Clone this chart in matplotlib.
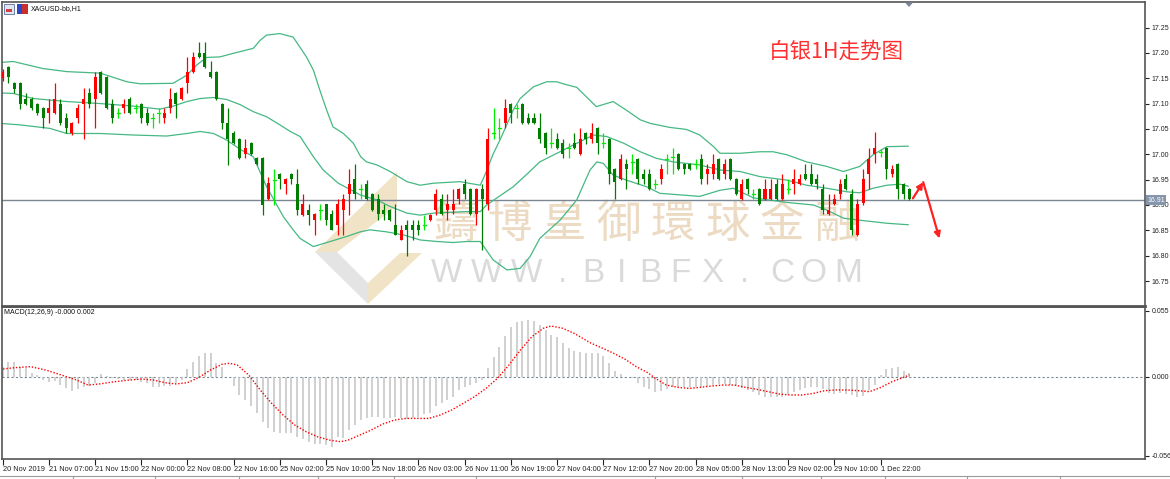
import matplotlib
matplotlib.use('Agg')
import matplotlib.pyplot as plt
from matplotlib.patches import Rectangle, Polygon
import numpy as np

W, H, DPI = 1170, 479, 100

# ---------------- data ----------------
opens = [17.150, 17.173, 17.141, 17.140, 17.110, 17.110, 17.100, 17.091, 17.081, 17.081,
         17.100, 17.071, 17.041, 17.071, 17.100, 17.120, 17.110, 17.163, 17.152, 17.100,
         17.081, 17.091, 17.110, 17.091, 17.100, 17.081, 17.071, 17.081, 17.071, 17.091,
         17.120, 17.110, 17.140, 17.163, 17.200, 17.200, 17.163, 17.163, 17.100, 17.061,
         17.041, 17.031, 17.000, 17.022, 16.992, 16.992, 16.911, 16.950, 16.961, 16.941,
         16.961, 16.941, 16.880, 16.891, 16.870, 16.891, 16.901, 16.882, 16.860, 16.891,
         16.921, 16.951, 16.931, 16.941, 16.921, 16.911, 16.891, 16.891, 16.860, 16.831,
         16.860, 16.860, 16.860, 16.860, 16.870, 16.891, 16.911, 16.891, 16.891, 16.911,
         16.941, 16.931, 16.882, 16.931, 16.901, 17.041, 17.051, 17.061, 17.100, 17.091,
         17.100, 17.071, 17.071, 17.051, 17.041, 17.022, 17.031, 17.022, 17.012, 17.022,
         17.000, 17.041, 17.031, 17.051, 17.022, 17.031, 16.971, 16.951, 16.980, 16.985,
         16.991, 16.961, 16.961, 16.941, 16.951, 16.991, 16.995, 17.000, 16.980, 16.980,
         16.980, 16.991, 16.961, 16.961, 16.991, 16.961, 16.991, 16.951, 16.911, 16.951,
         16.921, 16.931, 16.911, 16.911, 16.941, 16.911, 16.931, 16.941, 16.941, 16.961,
         16.961, 16.951, 16.931, 16.882, 16.901, 16.921, 16.951, 16.921, 16.841, 16.903,
         16.961, 17.000, 17.005, 17.012, 16.961, 16.980, 16.941, 16.931]
highs = [17.168, 17.175, 17.143, 17.142, 17.120, 17.112, 17.102, 17.093, 17.110, 17.141,
         17.110, 17.081, 17.063, 17.100, 17.130, 17.130, 17.163, 17.165, 17.155, 17.110,
         17.091, 17.110, 17.112, 17.100, 17.102, 17.091, 17.081, 17.091, 17.091, 17.130,
         17.122, 17.132, 17.192, 17.202, 17.222, 17.222, 17.183, 17.165, 17.102, 17.091,
         17.045, 17.033, 17.031, 17.024, 16.995, 16.995, 16.955, 16.971, 16.963, 16.953,
         16.963, 16.971, 16.921, 16.901, 16.884, 16.901, 16.902, 16.891, 16.911, 16.921,
         16.971, 16.980, 16.941, 16.950, 16.923, 16.921, 16.901, 16.893, 16.901, 16.860,
         16.870, 16.870, 16.870, 16.880, 16.882, 16.931, 16.921, 16.921, 16.931, 16.933,
         16.951, 16.933, 16.933, 16.941, 17.051, 17.091, 17.071, 17.110, 17.102, 17.100,
         17.102, 17.081, 17.081, 17.081, 17.043, 17.051, 17.041, 17.031, 17.022, 17.041,
         17.051, 17.043, 17.061, 17.053, 17.041, 17.033, 16.973, 17.001, 16.991, 17.000,
         16.993, 16.971, 16.971, 16.951, 16.980, 17.001, 17.012, 17.002, 16.982, 16.982,
         16.991, 17.001, 16.980, 17.000, 16.993, 16.991, 16.993, 16.953, 16.951, 16.953,
         16.931, 16.933, 16.951, 16.951, 16.951, 16.961, 16.951, 16.971, 16.961, 16.980,
         16.980, 16.961, 16.941, 16.921, 16.921, 16.951, 16.961, 16.931, 16.911, 16.971,
         17.012, 17.043, 17.010, 17.014, 16.978, 16.982, 16.943, 16.933]
lows = [17.145, 17.140, 17.120, 17.090, 17.098, 17.088, 17.078, 17.051, 17.061, 17.080,
        17.058, 17.041, 17.039, 17.061, 17.031, 17.091, 17.051, 17.118, 17.089, 17.061,
        17.071, 17.081, 17.079, 17.081, 17.061, 17.058, 17.051, 17.061, 17.061, 17.081,
        17.071, 17.108, 17.120, 17.160, 17.190, 17.170, 17.150, 17.108, 17.050, 16.979,
        17.020, 16.990, 16.992, 16.998, 16.978, 16.880, 16.910, 16.900, 16.931, 16.921,
        16.941, 16.880, 16.879, 16.860, 16.841, 16.870, 16.860, 16.850, 16.841, 16.841,
        16.880, 16.911, 16.911, 16.909, 16.889, 16.870, 16.870, 16.868, 16.840, 16.830,
        16.800, 16.831, 16.840, 16.851, 16.868, 16.880, 16.880, 16.870, 16.882, 16.901,
        16.911, 16.880, 16.860, 16.811, 16.891, 17.031, 17.031, 17.051, 17.061, 17.071,
        17.059, 17.059, 17.059, 17.022, 17.000, 17.012, 17.010, 16.992, 16.992, 17.010,
        16.998, 17.020, 17.022, 17.000, 17.012, 16.941, 16.911, 16.949, 16.931, 16.961,
        16.941, 16.941, 16.929, 16.931, 16.941, 16.961, 16.961, 16.969, 16.961, 16.969,
        16.971, 16.941, 16.941, 16.951, 16.949, 16.951, 16.949, 16.919, 16.909, 16.921,
        16.911, 16.899, 16.909, 16.909, 16.909, 16.909, 16.921, 16.921, 16.939, 16.949,
        16.939, 16.931, 16.882, 16.880, 16.899, 16.911, 16.929, 16.840, 16.839, 16.900,
        16.931, 16.982, 16.995, 16.951, 16.955, 16.911, 16.911, 16.909]
closes = [17.163, 17.152, 17.128, 17.100, 17.100, 17.091, 17.081, 17.071, 17.091, 17.110,
          17.061, 17.051, 17.061, 17.091, 17.110, 17.100, 17.152, 17.120, 17.091, 17.071,
          17.081, 17.100, 17.081, 17.091, 17.071, 17.061, 17.071, 17.081, 17.081, 17.110,
          17.100, 17.130, 17.163, 17.192, 17.192, 17.173, 17.152, 17.110, 17.061, 17.031,
          17.022, 16.992, 17.012, 17.000, 16.980, 16.900, 16.943, 16.950, 16.951, 16.951,
          16.951, 16.891, 16.901, 16.880, 16.882, 16.891, 16.870, 16.851, 16.901, 16.911,
          16.941, 16.921, 16.931, 16.911, 16.891, 16.882, 16.882, 16.870, 16.841, 16.851,
          16.851, 16.851, 16.851, 16.860, 16.880, 16.921, 16.882, 16.901, 16.901, 16.931,
          16.921, 16.882, 16.931, 16.911, 17.031, 17.041, 17.051, 17.091, 17.081, 17.091,
          17.061, 17.061, 17.061, 17.031, 17.012, 17.022, 17.012, 17.000, 17.012, 17.012,
          17.031, 17.031, 17.041, 17.022, 17.022, 16.961, 16.945, 16.991, 16.971, 16.985,
          16.951, 16.951, 16.931, 16.941, 16.971, 16.991, 16.995, 16.971, 16.971, 16.971,
          16.980, 16.951, 16.971, 16.980, 16.951, 16.980, 16.951, 16.921, 16.941, 16.931,
          16.921, 16.901, 16.931, 16.931, 16.911, 16.941, 16.931, 16.951, 16.951, 16.951,
          16.941, 16.941, 16.891, 16.891, 16.911, 16.941, 16.931, 16.851, 16.901, 16.951,
          16.991, 17.012, 17.005, 16.971, 16.971, 16.931, 16.921, 16.911]

# Bollinger bands (at these bar positions)
upper_pos = [-0.5, 1.8, 7.0, 11.1, 16.9, 21.5, 23.8, 29.5, 31.9, 33.6, 35.3, 37.6, 39.9,
             43.4, 44.6, 45.7, 48.0, 50.3, 52.6, 53.8, 54.9, 56.1, 57.2, 59.0, 60.7, 62.0,
             63.0, 64.8, 67.1, 70.0, 72.3, 74.6, 79.2, 82.7, 83.6, 84.9, 86.1, 88.4, 89.6,
             91.9, 94.2, 95.9, 97.7, 99.4, 102.8, 105.7, 108.0, 110.4, 112.1, 115.5, 118.4,
             120.7, 123.1, 124.2, 127.7, 131.1, 133.4, 135.8, 139.2, 142.7, 145.6, 148.4,
             150.7, 153.1, 156.8]
upper_val = [17.181, 17.183, 17.169, 17.163, 17.160, 17.143, 17.139, 17.140, 17.156, 17.176,
             17.191, 17.192, 17.199, 17.209, 17.225, 17.235, 17.238, 17.231, 17.192, 17.166,
             17.127, 17.087, 17.054, 17.041, 17.022, 16.995, 16.985, 16.979, 16.966, 16.946,
             16.939, 16.943, 16.946, 16.939, 16.962, 17.000, 17.028, 17.087, 17.110, 17.133,
             17.143, 17.143, 17.137, 17.132, 17.094, 17.104, 17.087, 17.068, 17.061, 17.053,
             17.049, 17.038, 17.015, 17.002, 17.002, 17.005, 17.005, 16.999, 16.985, 16.976,
             16.966, 16.976, 16.999, 17.015, 17.016]
mid_pos = [-0.5, 1.8, 5.3, 11.1, 16.9, 22.6, 27.2, 29.5, 31.9, 34.2, 36.5, 38.8, 41.1, 43.4,
           45.7, 48.0, 49.8, 51.5, 53.8, 55.5, 58.1, 61.9, 64.8, 67.1, 70.0, 72.3, 74.6, 80.3,
           82.7, 83.8, 88.4, 90.7, 93.0, 96.5, 100.0, 102.3, 104.6, 107.5, 110.4, 113.2,
           116.1, 120.7, 124.2, 127.7, 131.1, 135.8, 139.2, 142.7, 146.2, 148.4, 150.7,
           153.1, 155.4, 156.8]
mid_val = [17.121, 17.120, 17.110, 17.104, 17.100, 17.095, 17.089, 17.095, 17.104, 17.110,
           17.112, 17.108, 17.098, 17.084, 17.074, 17.058, 17.045, 17.035, 16.995, 16.969,
           16.943, 16.920, 16.910, 16.897, 16.884, 16.880, 16.884, 16.887, 16.887, 16.900,
           16.936, 16.960, 16.985, 17.005, 17.025, 17.038, 17.035, 17.022, 17.005, 16.992,
           16.985, 16.979, 16.969, 16.966, 16.956, 16.949, 16.939, 16.933, 16.926, 16.924,
           16.933, 16.939, 16.941, 16.937]
lower_pos = [-0.5, 3.0, 8.2, 11.1, 16.9, 22.6, 28.4, 31.9, 34.2, 36.5, 38.8, 41.1, 43.4,
             45.7, 48.6, 50.3, 51.5, 53.8, 56.7, 59.6, 61.9, 63.6, 66.5, 69.4, 72.3, 75.2,
             78.0, 80.3, 82.7, 84.9, 87.3, 89.6, 91.3, 93.0, 96.5, 99.4, 101.7, 102.9, 104.0,
             105.7, 108.0, 111.5, 113.8, 120.7, 124.2, 126.5, 130.0, 135.8, 140.4, 142.7,
             145.6, 148.4, 153.1, 156.8]
lower_val = [17.061, 17.058, 17.051, 17.041, 17.041, 17.038, 17.036, 17.041, 17.045, 17.041,
             17.028, 17.010, 16.995, 16.936, 16.877, 16.851, 16.834, 16.818, 16.828, 16.838,
             16.847, 16.851, 16.847, 16.841, 16.831, 16.828, 16.826, 16.828, 16.828, 16.792,
             16.772, 16.775, 16.798, 16.834, 16.870, 16.910, 16.969, 16.985, 16.982, 16.959,
             16.949, 16.936, 16.923, 16.917, 16.929, 16.933, 16.914, 16.905, 16.900, 16.890,
             16.874, 16.870, 16.864, 16.861]

# MACD main (histogram), thousandths
macd_hist = [8.6, 12.8, 12.8, 8.6, 7.2, 3.1, 1.7, -2.5, -3.9, -3.3,
             -6.7, -9.5, -11.4, -10.3, -8.6, -7.5, -4.7, 2.5, 0.8, -1.1,
             -1.9, -2.5, -2.5, -2.5, -3.9, -5.3, -8.6, -8.6, -7.5, -7.5,
             -5.3, -2.5, 6.4, 12.8, 17.5, 19.7, 19.7, 12.0, 8.6, 0.3,
             -7.5, -15.0, -19.2, -24.2, -30.3, -37.3, -42.8, -45.6, -46.4, -46.4,
             -46.4, -50.3, -52.0, -53.9, -55.9, -55.9, -56.7, -58.1, -50.3, -51.2,
             -44.2, -40.0, -35.9, -34.5, -33.6, -33.6, -34.5, -34.5, -33.6, -34.5,
             -35.3, -34.5, -33.1, -30.9, -30.3, -24.2, -22.0, -19.2, -16.4, -10.8,
             -8.1, -6.7, -4.7, -2.5, 7.2, 17.0, 25.3, 34.2, 42.0, 46.1,
             47.0, 47.5, 47.0, 43.4, 39.2, 35.0, 33.6, 28.1, 23.9, 22.0,
             21.1, 20.3, 20.3, 19.7, 17.5, 11.4, 5.3, 2.5, -0.3, -1.1,
             -4.7, -8.1, -10.3, -12.2, -11.4, -10.3, -8.6, -8.1, -8.6, -8.6,
             -8.6, -8.1, -7.5, -6.7, -5.8, -5.8, -6.7, -7.5, -9.5, -10.8,
             -12.2, -15.0, -16.4, -17.0, -17.0, -16.4, -15.0, -12.2, -10.8, -9.5,
             -8.6, -8.1, -10.3, -13.6, -14.2, -13.1, -14.2, -15.0, -16.4, -15.8,
             -10.8, -6.7, 1.7, 6.4, 7.2, 8.6, 5.3, 3.1]
signal_pos = [-0.47, 2.18, 4.83, 7.48, 10.13, 12.78, 14.77, 16.76, 19.41, 22.06, 24.05,
              26.04, 28.03, 30.01, 32.0, 33.99, 35.98, 37.97, 39.29, 40.62, 42.6, 44.59,
              46.58, 48.57, 50.56, 52.55, 54.53, 56.52, 58.51, 59.84, 61.82, 63.81, 65.8,
              67.79, 69.78, 71.76, 73.75, 75.74, 77.73, 79.72, 81.7, 83.69, 85.68, 87.67,
              89.66, 91.64, 93.63, 94.96, 96.95, 98.94, 100.9, 101.9, 103.9, 105.8, 107.8,
              109.7, 111.7, 113.0, 114.9, 116.9, 118.9, 120.8, 122.8, 124.7, 126.7, 128.6,
              130.6, 132.5, 134.5, 136.4, 138.4, 140.4, 142.3, 144.3, 146.2, 148.2, 150.1,
              152.1, 154.0, 156.0, 157.0]
signal_val = [6.4, 7.8, 8.6, 5.8, 1.7, -2.5, -6.7, -5.8, -3.9, -2.5, -1.7,
              -2.5, -4.7, -5.8, -4.7, -0.3, 5.8, 10.6, 11.4, 10.0, 1.7, -10.8,
              -22.0, -31.7, -40.0, -45.6, -49.8, -52.5, -53.9, -52.5, -48.4, -44.2, -39.2,
              -35.9, -34.5, -34.5, -34.5, -31.7, -27.5, -22.0, -16.4, -9.5, -1.1, 10.0,
              22.5, 33.6, 40.6, 42.5, 40.6, 36.4, 30.9, 28.1, 23.9, 19.7, 14.7,
              8.6, 3.6, -1.1, -6.7, -8.6, -9.5, -8.6, -7.5, -6.7, -6.7, -8.6,
              -10.3, -12.2, -14.2, -15.0, -15.0, -13.6, -11.4, -10.8, -10.8, -11.4, -12.2,
              -8.6, -3.9, -0.3, 1.7]

time_labels = ['20 Nov 2019', '21 Nov 07:00', '21 Nov 15:00', '22 Nov 00:00', '22 Nov 08:00',
               '22 Nov 16:00', '25 Nov 02:00', '25 Nov 10:00', '25 Nov 18:00', '26 Nov 03:00',
               '26 Nov 11:00', '26 Nov 19:00', '27 Nov 04:00', '27 Nov 12:00', '27 Nov 20:00',
               '28 Nov 05:00', '28 Nov 13:00', '29 Nov 02:00', '29 Nov 10:00', '1 Dec 22:00']
price_ticks = [16.75, 16.80, 16.85, 16.90, 16.95, 17.00, 17.05, 17.10, 17.15, 17.20, 17.25]
current_price = 16.91
arrow_up = [(157.6, 16.913), (159.4, 16.945)]
arrow_down = [(159.4, 16.945), (162.2, 16.834)]
title_text = '白银1H走势图'
symbol_text = 'XAGUSD-bb,H1'
macd_text = 'MACD(12,26,9) -0.000 0.002'
wm_chars = ['鑄', '博', '皇', '御', '環', '球', '金', '融']
wm_url = ['W', 'W', 'W', '.', 'B', 'I', 'B', 'F', 'X', '.', 'C', 'O', 'M']

# ---------------- figure ----------------
plt.rcParams['font.family'] = ['Liberation Sans', 'DejaVu Sans']
fig = plt.figure(figsize=(W / DPI, H / DPI), dpi=DPI, facecolor='white')


def fx(x):
    return x / W


def fy(y):
    return 1 - y / H


CJK = ['Noto Sans CJK TC', 'Noto Sans CJK SC', 'DejaVu Sans']

# watermark logo (behind axes)
beige = '#f1e3c6'
grey = '#e4e4e4'
for pts, col in [
    ([(315, 252), (337, 252), (397, 206), (397, 172)], beige),
    ([(315, 252), (337, 252), (368, 283), (368, 304)], grey),
    ([(368, 304), (368, 283), (400, 253), (422, 253)], beige),
]:
    fig.add_artist(Polygon([(fx(a), fy(b)) for a, b in pts], closed=True,
                           transform=fig.transFigure, facecolor=col,
                           edgecolor='none', zorder=-2))
wm_x0, wm_dx = 455, 54.5
for k, ch in enumerate(wm_chars):
    fig.text(fx(wm_x0 + k * wm_dx), fy(224), ch, fontsize=32, color='#ecdac2',
             family=CJK, ha='center', va='center', zorder=-2)
url_x = [447, 487, 527, 563, 593, 622, 650, 680, 712, 745, 782, 813, 848]
for xx, ch in zip(url_x, wm_url):
    fig.text(fx(xx), fy(273), ch, fontsize=24, color='#dadada', ha='center',
             va='center', zorder=-2, family=['Liberation Sans', 'DejaVu Sans'])

# ---------- main price axes ----------
ax = fig.add_axes([fx(2), fy(305.5), (1145 - 2) / W, (305.5 - 2) / H])
ax.set_facecolor('none')
ax.set_xlim(-0.12, 197.8)
ax.set_ylim(16.7018, 17.3003)

n = len(closes)
bw = 0.52
for i in range(n):
    o, h, l, c = opens[i], highs[i], lows[i], closes[i]
    if c > o + 1e-9:
        col = '#ff0000'
    elif c < o - 1e-9:
        col = '#007d00'
    else:
        col = '#00ee00'
    ax.plot([i, i], [l, h], color=col, lw=0.9, solid_capstyle='butt', zorder=3)
    if col == '#00ee00':
        ax.plot([i - bw / 2, i + bw / 2], [c, c], color=col, lw=0.9, zorder=3)
    else:
        lo_, hi_ = min(o, c), max(o, c)
        ax.add_patch(Rectangle((i - bw / 2, lo_), bw, max(hi_ - lo_, 0.0015),
                               facecolor=col, edgecolor='none', zorder=4))

band_col = '#45b883'
ax.plot(upper_pos, upper_val, color=band_col, lw=0.9, zorder=2)
ax.plot(mid_pos, mid_val, color=band_col, lw=0.9, zorder=2)
ax.plot(lower_pos, lower_val, color=band_col, lw=0.9, zorder=2)

ax.axhline(current_price, color='#7b8894', lw=1.0, zorder=1)

ax.annotate('', xy=arrow_up[1], xytext=arrow_up[0],
            arrowprops=dict(arrowstyle='-|>', color='#ff2020', lw=1.6,
                            mutation_scale=9, shrinkA=0, shrinkB=0), zorder=6)
ax.annotate('', xy=arrow_down[1], xytext=arrow_down[0],
            arrowprops=dict(arrowstyle='-|>', color='#ff2020', lw=1.6,
                            mutation_scale=9, shrinkA=0, shrinkB=0), zorder=6)

ax.yaxis.tick_right()
ax.set_yticks(price_ticks)
ax.set_yticklabels(['%.2f' % v for v in price_ticks])
ax.tick_params(axis='y', labelsize=5, length=3, width=0.8, pad=1.5,
               colors='#222222')
ax.set_xticks([])
for s in ax.spines.values():
    s.set_color('#555555')
    s.set_linewidth(1.2)
ax.spines['bottom'].set_linewidth(2)

# current price tag
fig.text(fx(1147), fy(200), '16.91', fontsize=5, color='white', ha='left',
         va='center', bbox=dict(boxstyle='square,pad=0.15', facecolor='#8595ab',
                                edgecolor='none'))

# shift marker
fig.add_artist(Polygon([(fx(905), fy(2.5)), (fx(913), fy(2.5)), (fx(909), fy(7))],
                       closed=True, transform=fig.transFigure,
                       facecolor='#7a8696', edgecolor='none'))

# ---------- MACD axes ----------
ax2 = fig.add_axes([fx(2), fy(459), 1143 / W, (459 - 307) / H])
ax2.set_facecolor('none')
ax2.set_xlim(-0.12, 197.8)
ax2.set_ylim(-0.0683, 0.0583)
hx = np.arange(len(macd_hist))
ax2.vlines(hx, 0, np.array(macd_hist) / 1000.0, color='#c4c4c4', lw=1.1, zorder=2)
ax2.axhline(0, color='#7b8894', lw=0.8, ls=(0, (2, 2)), zorder=1)
ax2.plot(signal_pos, np.array(signal_val) / 1000.0, color='#ff0000', lw=1.0,
         ls=(0, (1, 1.3)), zorder=3)
ax2.yaxis.tick_right()
ax2.set_yticks([0.055, 0.0, -0.0655])
ax2.set_yticklabels(['0.055', '0.000', '-0.056'])
ax2.tick_params(axis='y', labelsize=5, length=3, width=0.8, pad=1.5,
                colors='#222222')
ax2.set_xticks([8 * k for k in range(len(time_labels))])
ax2.set_xticklabels(time_labels)
for lab in ax2.get_xticklabels():
    lab.set_ha('left')
ax2.tick_params(axis='x', labelsize=5.3, length=4, width=0.8, pad=1,
                colors='#222222')
for s in ax2.spines.values():
    s.set_color('#555555')
    s.set_linewidth(1.2)

# ---------- texts ----------
fig.text(fx(769), fy(52), title_text, fontsize=15.5, color='#ff3030',
         family=['Noto Sans CJK SC', 'DejaVu Sans'], ha='left', va='center')
fig.text(fx(31), fy(9), symbol_text, fontsize=5, color='#111111', ha='left',
         va='center')
fig.text(fx(4), fy(313), macd_text, fontsize=5, color='#111111', ha='left',
         va='center')

# top-left icons
fig.add_artist(Rectangle((fx(4), fy(14)), 10 / W, 10 / H, transform=fig.transFigure,
                         facecolor='#dfe6f2', edgecolor='#5a6f99', lw=0.6))
fig.add_artist(Rectangle((fx(6), fy(12)), 6 / W, 3 / H, transform=fig.transFigure,
                         facecolor='#d04040', edgecolor='none'))
fig.add_artist(Rectangle((fx(17), fy(14)), 5 / W, 10 / H, transform=fig.transFigure,
                         facecolor='#2a48c8', edgecolor='none'))
fig.add_artist(Rectangle((fx(22), fy(14)), 6 / W, 10 / H, transform=fig.transFigure,
                         facecolor='#c83030', edgecolor='none'))

# bottom tab strip
fig.add_artist(plt.Line2D([0, 1], [fy(475.5), fy(475.5)], transform=fig.transFigure,
                          color='#9a9a9a', lw=0.8))
for xs in [73, 155, 239, 318, 394, 476, 655, 742, 821, 885, 967, 1060]:
    fig.add_artist(plt.Line2D([fx(xs), fx(xs)], [fy(475.5), fy(479)],
                              transform=fig.transFigure, color='#9a9a9a', lw=0.8))

fig.savefig('out.png', dpi=DPI, facecolor='white')
